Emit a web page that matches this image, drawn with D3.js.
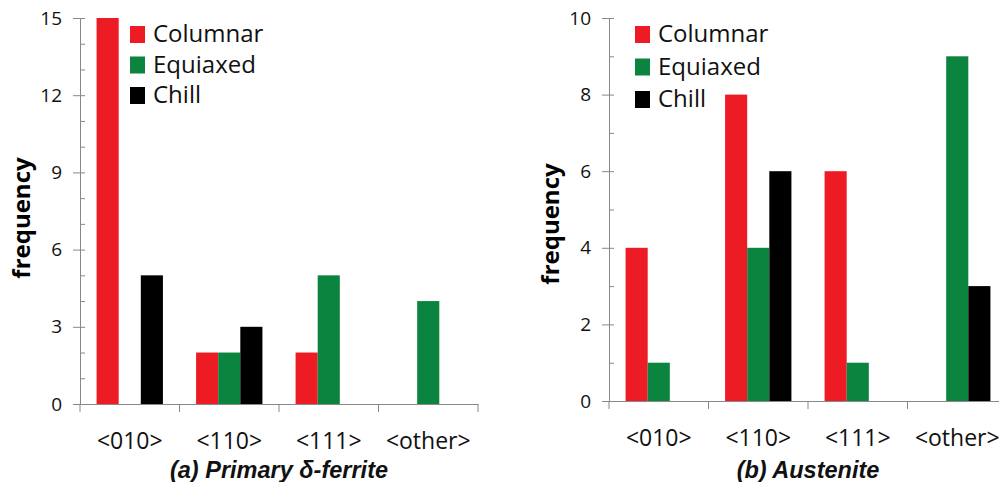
<!DOCTYPE html>
<html>
<head>
<meta charset="utf-8">
<script src="https://cdn.jsdelivr.net/npm/d3@7"></script>
<style>
  body { margin: 0; background: #fff; }
  svg { display: block; }
</style>
</head>
<body>
<svg width="999" height="482"></svg>
<script>
// categories and series
const categories = ["<010>", "<110>", "<111>", "<other>"];
const seriesNames = ["Columnar", "Equiaxed", "Chill"];
const seriesColors = ["#ed1c24", "#0b843f", "#000000"];

// (a) primary delta-ferrite
const ferriteColumnar = [15, 2, 2, 0];
const ferriteEquiaxed = [0, 2, 5, 4];
const ferriteChill = [5, 3, 0, 0];
const ferriteTicks = [0, 3, 6, 9, 12, 15];

// (b) austenite
const austeniteColumnar = [4, 8, 6, 0];
const austeniteEquiaxed = [1, 4, 1, 9];
const austeniteChill = [0, 6, 0, 3];
const austeniteTicks = [0, 2, 4, 6, 8, 10];

const svg = d3.select("svg");

function panel(opts) {
    var g = svg.append("g");
    var series = [opts.columnar, opts.equiaxed, opts.chill];

    var x = d3.scaleBand()
        .domain(categories)
        .range([opts.left, opts.left + 398])
        .paddingInner(0)
        .paddingOuter(0);

    var inner = d3.scaleBand()
        .domain(seriesNames)
        .range([0, x.bandwidth()])
        .paddingOuter(0.75)
        .paddingInner(0);

    var y = d3.scaleLinear()
        .domain([0, opts.max])
        .range([opts.bottom, 18]);

    // bars
    series.forEach((vals, si) => {
        g.selectAll(null)
            .data(vals.map((v, i) => ({ c: categories[i], v: v })).filter(d => d.v > 0))
            .enter().append("rect")
            .attr("x", d => x(d.c) + inner(seriesNames[si]))
            .attr("y", d => y(d.v))
            .attr("width", inner.bandwidth())
            .attr("height", d => y(0) - y(d.v))
            .attr("fill", seriesColors[si]);
    });

    // y axis: minor ticks every 1 (inside), labelled ticks outside
    var yMinor = d3.axisRight(y).tickValues(d3.range(0, opts.max + 1)).tickSize(5).tickFormat("");
    g.append("g").attr("transform", `translate(${opts.left},0)`).call(yMinor)
        .call(a => a.select(".domain").remove());

    var yAxis = d3.axisLeft(y).tickValues(opts.ticks).tickSize(7).tickPadding(11);
    g.append("g").attr("transform", `translate(${opts.left},0)`).call(yAxis)
        .call(a => a.selectAll("text").attr("font-size", 19));

    // x axis
    var xAxis = d3.axisBottom(x).tickSize(0).tickPadding(29);
    var xg = g.append("g").attr("transform", `translate(0,${opts.bottom})`).call(xAxis);
    xg.selectAll("text").attr("font-size", 23);
    xg.selectAll(null)
        .data(categories.concat(["end"]))
        .enter().append("line")
        .attr("x1", (d, i) => opts.left + i * x.bandwidth())
        .attr("x2", (d, i) => opts.left + i * x.bandwidth())
        .attr("y1", 0).attr("y2", 8)
        .attr("stroke", "#888");

    g.selectAll(".domain, .tick line").attr("stroke", "#888");
    g.selectAll(".tick text").attr("fill", "#111").attr("font-family", "Open Sans, sans-serif");

    // y label
    g.append("text")
        .attr("transform", `translate(${opts.left - 50},${opts.labelY}) rotate(-90)`)
        .attr("text-anchor", "middle")
        .attr("font-family", "Open Sans, sans-serif")
        .attr("font-weight", "bold")
        .attr("font-size", 24)
        .text("frequency");

    // legend
    var lg = g.append("g").attr("transform", `translate(${opts.legendX},${opts.legendY})`);
    seriesNames.forEach((s, i) => {
        lg.append("rect")
            .attr("x", 0).attr("y", i * opts.legendStep - 8)
            .attr("width", 15).attr("height", 17)
            .attr("fill", seriesColors[i]);
        lg.append("text")
            .attr("x", 23).attr("y", i * opts.legendStep)
            .attr("dy", "0.35em")
            .attr("font-family", "Open Sans, sans-serif")
            .attr("font-size", 24)
            .attr("fill", "#111")
            .text(s);
    });

    // caption
    g.append("text")
        .attr("x", opts.left + 199)
        .attr("y", 478)
        .attr("text-anchor", "middle")
        .attr("font-family", "Liberation Sans, Arial, sans-serif")
        .attr("font-weight", "bold")
        .attr("font-style", "italic")
        .attr("font-size", 23.5)
        .attr("fill", "#111")
        .text(opts.caption);
}

panel({
    left: 80, bottom: 404, max: 15, ticks: ferriteTicks,
    columnar: ferriteColumnar, equiaxed: ferriteEquiaxed, chill: ferriteChill,
    legendX: 130, legendY: 34, legendStep: 30.5, labelY: 218,
    caption: "(a) Primary δ-ferrite"
});

panel({
    left: 609, bottom: 401, max: 10, ticks: austeniteTicks,
    columnar: austeniteColumnar, equiaxed: austeniteEquiaxed, chill: austeniteChill,
    legendX: 635, legendY: 34, legendStep: 32.5, labelY: 224,
    caption: "(b) Austenite"
});
</script>
</body>
</html>
